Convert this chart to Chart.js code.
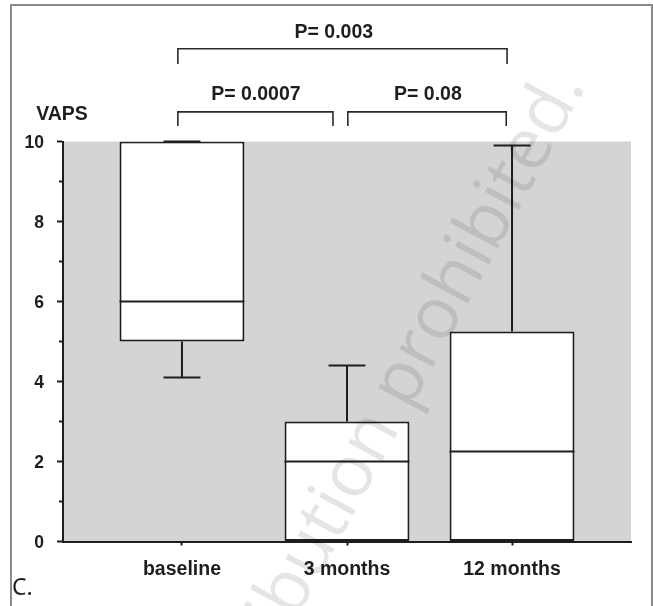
<!DOCTYPE html>
<html>
<head>
<meta charset="utf-8">
<script src="https://cdn.jsdelivr.net/npm/chart.js@4.4.1/dist/chart.umd.min.js"></script>
<style>
  html, body { margin: 0; padding: 0; background: #fff; overflow: hidden; }
  #wrap { position: relative; width: 653px; height: 606px; }
  #frame { position: absolute; left: 10px; top: 4px; width: 639px; height: 640px; border: 2px solid #8a8a8a; pointer-events: none; }
  canvas { position: absolute; left: 0; top: 0; }
</style>
</head>
<body>
<div id="wrap">
  <canvas id="box" width="653" height="606"></canvas>
  <div id="frame"></div>
</div>
<script>
// box plot values (VAPS score)
const categories = ['baseline', '3 months', '12 months'];
const whiskerLow = [4.1, 0, 0];
const q1 = [5, 0, 0];
const median = [6, 2, 2.25];
const q3 = [10, 3, 5.25];
const whiskerHigh = [10, 4.4, 9.9];

// significance brackets: [from, to] in category positions, p label
const bracketFrom = [0.975, 2.005, 0.975];
const bracketTo = [1.915, 2.965, 2.97];
const bracketLevel = [10.74, 10.74, 12.32];   // y of the horizontal bar
const bracketLeg = [10.39, 10.39, 11.94];     // y where the legs stop
const pLabels = ['P= 0.0007', 'P= 0.08', 'P= 0.003'];
const pLabelX = [1.448, 2.49, 1.92];
const pLabelY = [11.17, 11.17, 12.72];

const ink = '#1e1e1e';
const boldFont = '"Liberation Sans", Arial, sans-serif';

var boxExtras = {
  id: 'boxExtras',
  beforeDraw: function(chart) {
    var a = chart.chartArea, c = chart.ctx;
    c.save();
    c.fillStyle = '#d3d4d6';
    c.fillRect(a.left, a.top, a.right - a.left, a.bottom - a.top);
    c.restore();
  },
  afterDatasetsDraw: function(chart) {
    var xs = chart.scales.x, ys = chart.scales.y, c = chart.ctx;
    var bars = chart.getDatasetMeta(0).data;
    c.save();
    c.strokeStyle = ink;
    c.lineWidth = 2;
    categories.forEach(function(name, i) {
      var cx = xs.getPixelForValue(i + 1);
      var capL = xs.getPixelForValue(i + 1 - 0.112), capR = xs.getPixelForValue(i + 1 + 0.112);
      c.beginPath();
      c.moveTo(cx, ys.getPixelForValue(q3[i])); c.lineTo(cx, ys.getPixelForValue(whiskerHigh[i]));
      c.moveTo(cx, ys.getPixelForValue(q1[i])); c.lineTo(cx, ys.getPixelForValue(whiskerLow[i]));
      c.moveTo(capL, ys.getPixelForValue(whiskerHigh[i])); c.lineTo(capR, ys.getPixelForValue(whiskerHigh[i]));
      c.moveTo(capL, ys.getPixelForValue(whiskerLow[i])); c.lineTo(capR, ys.getPixelForValue(whiskerLow[i]));
      var b = bars[i];
      var my = ys.getPixelForValue(median[i]);
      c.moveTo(b.x - b.width / 2, my); c.lineTo(b.x + b.width / 2, my);
      c.stroke();
    });
    c.restore();
  },
  afterDraw: function(chart) {
    var xs = chart.scales.x, ys = chart.scales.y, c = chart.ctx;
    c.save();
    // minor ticks on the y axis
    c.strokeStyle = ink; c.lineWidth = 2;
    for (var v = 1; v < 10; v += 2) {
      var ty = ys.getPixelForValue(v);
      c.beginPath(); c.moveTo(chart.chartArea.left - 4, ty); c.lineTo(chart.chartArea.left, ty); c.stroke();
    }
    // brackets
    c.strokeStyle = '#2a2a2a'; c.lineWidth = 1.6;
    bracketFrom.forEach(function(f, i) {
      var x1 = xs.getPixelForValue(f), x2 = xs.getPixelForValue(bracketTo[i]);
      var yb = ys.getPixelForValue(bracketLevel[i]), yl = ys.getPixelForValue(bracketLeg[i]);
      c.beginPath();
      c.moveTo(x1, yl); c.lineTo(x1, yb); c.lineTo(x2, yb); c.lineTo(x2, yl);
      c.stroke();
    });
    c.fillStyle = ink;
    c.font = 'bold 19.5px ' + boldFont;
    c.textAlign = 'center'; c.textBaseline = 'middle';
    pLabels.forEach(function(t, i) {
      c.fillText(t, xs.getPixelForValue(pLabelX[i]), ys.getPixelForValue(pLabelY[i]));
    });
    c.fillText('VAPS', chart.chartArea.left - 1, ys.getPixelForValue(10.66));
    // panel letter
    c.font = '23px "Noto Sans", "Open Sans", sans-serif';
    c.textAlign = 'left';
    c.fillText('C.', 12, 588);
    // watermark of the source
    c.translate(586, 86);
    c.rotate(-61.5 * Math.PI / 180);
    c.font = '72px "Open Sans", sans-serif';
    c.textAlign = 'right'; c.textBaseline = 'alphabetic';
    c.fillStyle = 'rgba(0, 0, 0, 0.1)';
    c.fillText('distribution prohibited.', 0, 0);
    c.restore();
  }
};

var ctx = document.getElementById('box').getContext('2d');
var chart = new Chart(ctx, {
  type: 'bar',
  data: {
    datasets: [{
      data: categories.map(function(c, i) { return { x: i + 1, y: [q1[i], q3[i]] }; }),
      backgroundColor: '#ffffff',
      borderColor: ink,
      borderWidth: 2,
      borderSkipped: false,
      barPercentage: 0.757,
      categoryPercentage: 1
    }]
  },
  options: {
    responsive: false,
    animation: false,
    layout: { padding: { top: 141.5, right: 22, left: 0, bottom: 0 } },
    plugins: { legend: { display: false }, tooltip: { enabled: false } },
    scales: {
      x: {
        type: 'linear', min: 0.279, max: 3.721, offset: false,
        afterBuildTicks: function(scale) {
          scale.ticks = categories.map(function(c, i) { return { value: i + 1 }; });
        },
        afterFit: function(scale) { scale.height = 64.5; },
        ticks: {
          autoSkip: false, maxRotation: 0, padding: 12, color: ink,
          font: { family: boldFont, size: 19.5, weight: 'bold' },
          callback: function(v) { return categories[Math.round(v) - 1]; }
        },
        grid: { offset: false, drawOnChartArea: false, tickLength: 4, tickWidth: 2, tickColor: ink },
        border: { color: ink, width: 2 }
      },
      y: {
        min: 0, max: 10,
        afterFit: function(scale) { scale.width = 63; },
        ticks: {
          stepSize: 1, padding: 13, labelOffset: 2, color: ink,
          font: { family: boldFont, size: 17.5, weight: 'bold' },
          callback: function(v) { return v % 2 === 0 ? v : ''; }
        },
        grid: {
          drawOnChartArea: false, tickLength: 6, tickWidth: 2,
          tickColor: function(c) { return c.tick && c.tick.value % 2 ? 'rgba(0,0,0,0)' : ink; }
        },
        border: { color: ink, width: 2 }
      }
    }
  },
  plugins: [boxExtras]
});
</script>
</body>
</html>
